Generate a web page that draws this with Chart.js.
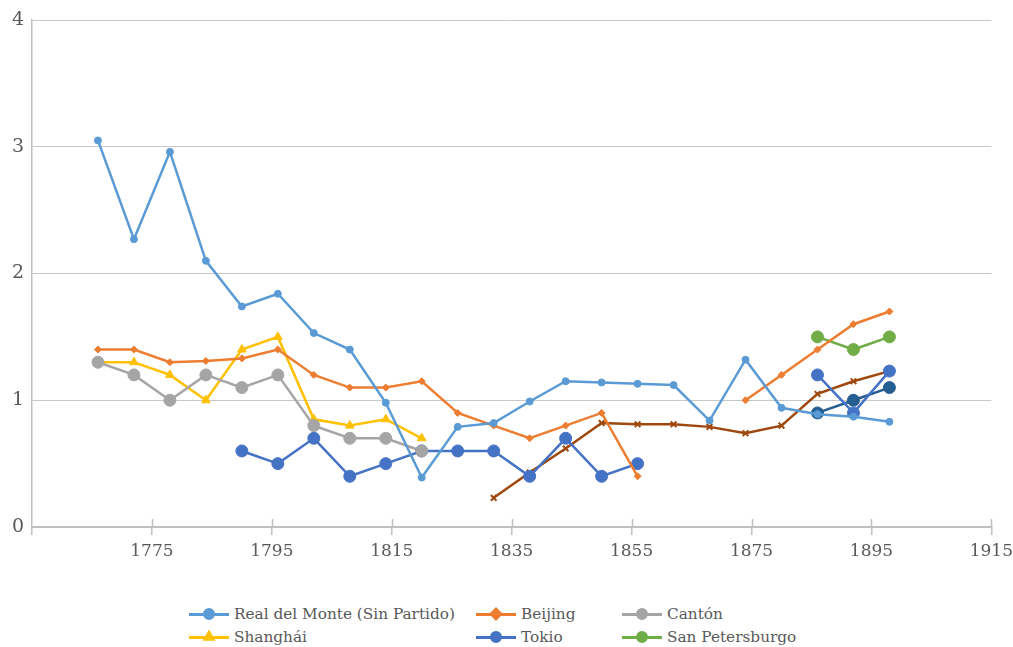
<!DOCTYPE html>
<html>
<head>
<meta charset="utf-8">
<script src="https://cdn.jsdelivr.net/npm/chart.js@4.4.1/dist/chart.umd.min.js"></script>
<style>
  html, body { margin: 0; padding: 0; background: #fff; overflow: hidden; }
  #wrap { position: relative; width: 1013px; height: 647px; overflow: hidden; }
  #box { position: absolute; left: 0; top: 0; width: 1019px; height: 580px; }
  .item { position: absolute; height: 20px; display: flex; align-items: center;
          font-family: "DejaVu Serif", "Liberation Serif", "Times New Roman", serif; font-size: 15.3px; color: #595959; white-space: nowrap; }
  .icon { position: relative; width: 40px; height: 20px; margin-right: 5px; }
  .icon .ln { position: absolute; left: 0; right: 0; top: 9px; height: 3px; }
  .icon canvas { position: absolute; left: 10px; top: 0; }
</style>
</head>
<body>
<div id="wrap">
  <div id="box"><canvas id="chart"></canvas></div>
  <div id="legend"></div>
</div>
<script>
const years = [1766, 1772, 1778, 1784, 1790, 1796, 1802, 1808, 1814, 1820, 1826, 1832,
               1838, 1844, 1850, 1856, 1862, 1868, 1874, 1880, 1886, 1892, 1898];

const realDelMonte = [3.05, 2.27, 2.96, 2.10, 1.74, 1.84, 1.53, 1.40, 0.98, 0.39, 0.79, 0.82,
                      0.99, 1.15, 1.14, 1.13, 1.12, 0.84, 1.32, 0.94, 0.89, 0.87, 0.83];
const beijing = [1.40, 1.40, 1.30, 1.31, 1.33, 1.40, 1.20, 1.10, 1.10, 1.15, 0.90, 0.80,
                 0.70, 0.80, 0.90, 0.40, null, null, 1.00, 1.20, 1.40, 1.60, 1.70];
const canton = [1.30, 1.20, 1.00, 1.20, 1.10, 1.20, 0.80, 0.70, 0.70, 0.60, null, null,
                null, null, null, null, null, null, null, null, null, null, null];
const shanghai = [1.30, 1.30, 1.20, 1.00, 1.40, 1.50, 0.85, 0.80, 0.85, 0.70, null, null,
                  null, null, null, null, null, null, null, null, null, null, null];
const tokio = [null, null, null, null, 0.60, 0.50, 0.70, 0.40, 0.50, 0.60, 0.60, 0.60,
               0.40, 0.70, 0.40, 0.50, null, null, null, null, 1.20, 0.90, 1.23];
const sanPetersburgo = [null, null, null, null, null, null, null, null, null, null, null, null,
                        null, null, null, null, null, null, null, null, 1.50, 1.40, 1.50];
const londres = [null, null, null, null, null, null, null, null, null, null, null, null,
                 null, null, null, null, null, null, null, null, 0.90, 1.00, 1.10];
const paris = [null, null, null, null, null, null, null, null, null, null, null, 0.23,
               0.43, 0.62, 0.82, 0.81, 0.81, 0.79, 0.74, 0.80, 1.05, 1.15, 1.23];

const yTicks = [0, 1, 2, 3, 4];
const xTicks = [1755, 1775, 1795, 1815, 1835, 1855, 1875, 1895, 1915];

const series = [
  { label: "Real del Monte (Sin Partido)", data: realDelMonte, color: "#5B9BD5", style: "circle", r: 3.5 },
  { label: "Beijing", data: beijing, color: "#ED7D31", style: "rectRot", r: 3.5 },
  { label: "Cantón", data: canton, color: "#A5A5A5", style: "circle", r: 6 },
  { label: "Shanghái", data: shanghai, color: "#FFC000", style: "triangle", r: 5 },
  { label: "Tokio", data: tokio, color: "#4472C4", style: "circle", r: 6 },
  { label: "San Petersburgo", data: sanPetersburgo, color: "#70AD47", style: "circle", r: 6 },
  { label: "Londres", data: londres, color: "#255E91", style: "circle", r: 6 },
  { label: "París", data: paris, color: "#9E480E", style: "crossRot", r: 4 }
];

const font = "'DejaVu Serif', 'Liberation Serif', 'Times New Roman', serif";

// ticks in Excel cross the axis line, draw the upper half
const crossTicks = {
  id: "crossTicks",
  afterDraw(chart) {
    const ctx = chart.ctx, xs = chart.scales.x, bottom = chart.chartArea.bottom;
    ctx.save();
    ctx.strokeStyle = "#BFBFBF";
    ctx.lineWidth = 1.5;
    xTicks.slice(1).forEach(v => {
      const px = Math.round(xs.getPixelForValue(v)) + 0.5;
      ctx.beginPath();
      ctx.moveTo(px, bottom - 8);
      ctx.lineTo(px, bottom);
      ctx.stroke();
    });
    ctx.restore();
  }
};

new Chart(document.getElementById("chart"), {
  type: "line",
  data: {
    datasets: series.map(s => ({
      label: s.label,
      data: years.map((y, i) => ({ x: y, y: s.data[i] })),
      borderColor: s.color,
      backgroundColor: s.color,
      borderWidth: 2.5,
      pointStyle: s.style,
      pointRadius: s.r,
      pointBorderWidth: s.style === "crossRot" ? 2 : 1,
      pointHoverRadius: s.r,
      tension: 0,
      spanGaps: false
    }))
  },
  options: {
    responsive: true,
    maintainAspectRatio: false,
    animation: false,
    layout: { padding: { left: 0, right: 21, top: 20, bottom: 0 } },
    plugins: { legend: { display: false }, tooltip: { enabled: false } },
    scales: {
      x: {
        type: "linear",
        min: 1755,
        max: 1915,
        afterBuildTicks: s => { s.ticks = xTicks.map(v => ({ value: v })); },
        afterFit: s => { s.height = 53; },
        grid: { drawOnChartArea: false, tickLength: 8, color: "#BFBFBF", lineWidth: 1.5 },
        border: { color: "#BFBFBF", width: 2 },
        ticks: {
          padding: 6,
          color: "#595959",
          font: { family: font, size: 17 },
          maxRotation: 0,
          callback: v => (v === 1755 ? "" : String(v))
        }
      },
      y: {
        min: 0,
        max: 4,
        afterBuildTicks: s => { s.ticks = yTicks.map(v => ({ value: v })); },
        afterFit: s => { s.width = 32; },
        grid: { drawTicks: false, color: "#C8C8C8", lineWidth: 1 },
        border: { color: "#BFBFBF", width: 1.5 },
        ticks: { padding: 8, color: "#595959", font: { family: font, size: 19 } }
      }
    }
  },
  plugins: [crossTicks]
});

// legend laid out in columns like the original
const legend = document.getElementById("legend");
const colX = [189, 476, 622];
const rowY = [604, 627, 650];
series.forEach((s, i) => {
  const item = document.createElement("div");
  item.className = "item";
  item.style.left = colX[i % 3] + "px";
  item.style.top = rowY[Math.floor(i / 3)] + "px";
  const icon = document.createElement("div");
  icon.className = "icon";
  const ln = document.createElement("div");
  ln.className = "ln";
  ln.style.background = s.color;
  icon.appendChild(ln);
  const c = document.createElement("canvas");
  c.width = 20; c.height = 20;
  const g = c.getContext("2d");
  g.fillStyle = s.color; g.strokeStyle = s.color; g.lineWidth = 2;
  Chart.helpers.drawPoint(g, { pointStyle: s.style, radius: s.style === "circle" ? 5 : 5.5, borderWidth: 2 }, 10, 10);
  if (s.style !== "crossRot") g.fill();
  icon.appendChild(c);
  item.appendChild(icon);
  item.appendChild(document.createTextNode(s.label));
  legend.appendChild(item);
});
</script>
</body>
</html>
